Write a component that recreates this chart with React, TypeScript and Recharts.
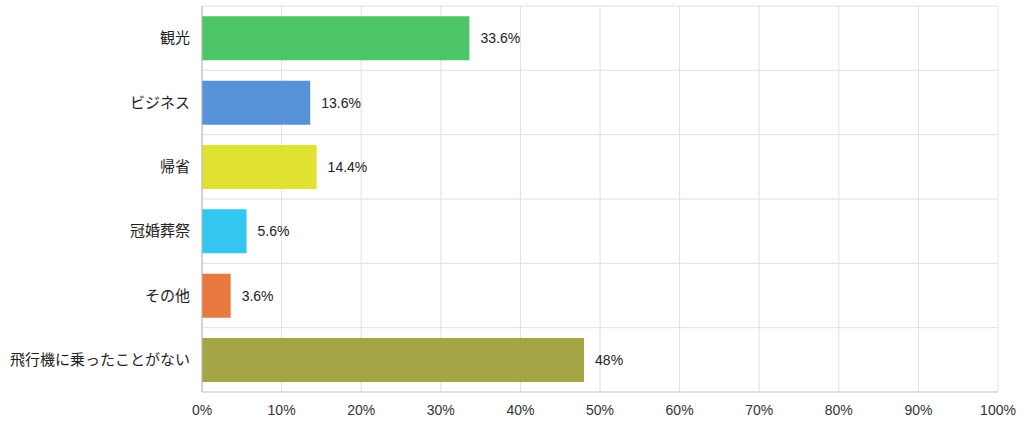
import React from "react";
import { BarChart, Bar, XAxis, YAxis, CartesianGrid, Cell, LabelList } from "recharts";

const categories = ["観光", "ビジネス", "帰省", "冠婚葬祭", "その他", "飛行機に乗ったことがない"];
const values = [33.6, 13.6, 14.4, 5.6, 3.6, 48];
const valueLabels = ["33.6%", "13.6%", "14.4%", "5.6%", "3.6%", "48%"];
const colors = ["#3fc15a", "#4a89d6", "#dde01f", "#21c1ef", "#e66f2f", "#9c9e36"];
const xTicks = [0, 10, 20, 30, 40, 50, 60, 70, 80, 90, 100];

const data = categories.map((name, i) => ({ name, value: values[i], label: valueLabels[i] }));

const FONT = "'Liberation Sans', Arial, 'Noto Sans CJK JP', sans-serif";

const bandBoundaries = ({ offset }: any) => {
  const n = categories.length;
  const out: number[] = [];
  for (let i = 0; i <= n; i++) out.push(offset.top + (offset.height * i) / n);
  return out;
};

export default function App() {
  return (
    <div style={{ position: "absolute", left: 0, top: 0, width: 1024, height: 428, background: "#fff" }}>
      <BarChart
        width={1024}
        height={428}
        data={data}
        layout="vertical"
        margin={{ top: 6, right: 26, bottom: 0, left: 0 }}
        barCategoryGap="16%"
      >
        <CartesianGrid stroke="#e0e0e0" strokeWidth={1} horizontalCoordinatesGenerator={bandBoundaries} />
        <XAxis
          type="number"
          domain={[0, 100]}
          ticks={xTicks}
          tickFormatter={(v) => `${v}%`}
          height={36}
          axisLine={{ stroke: "#cfcfcf" }}
          tickLine={false}
          tickSize={0}
          tickMargin={13}
          tick={{ fontSize: 14, fill: "#333", fontFamily: FONT }}
          interval={0}
        />
        <YAxis
          type="category"
          dataKey="name"
          width={202}
          axisLine={{ stroke: "#b8b8b8" }}
          tickLine={false}
          tickSize={0}
          tickMargin={12}
          tick={{ fontSize: 15, fill: "#222", fontFamily: FONT }}
          interval={0}
        />
        <Bar dataKey="value" isAnimationActive={false} fillOpacity={0.92}>
          {data.map((d, i) => (
            <Cell key={d.name} fill={colors[i]} />
          ))}
          <LabelList
            dataKey="label"
            position="right"
            offset={11}
            style={{ fontSize: 14, fill: "#222", fontFamily: FONT }}
          />
        </Bar>
      </BarChart>
    </div>
  );
}
